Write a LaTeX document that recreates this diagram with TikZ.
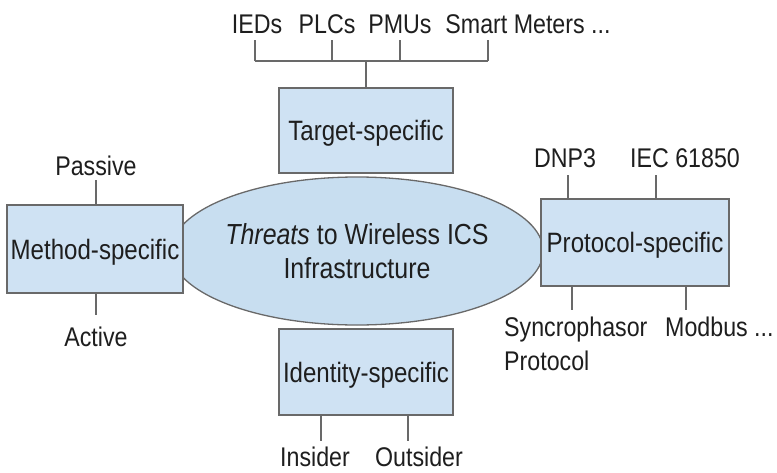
\documentclass[tikz,border=0pt]{standalone}
\usepackage{fontspec}
\setmainfont{Liberation Sans}
\newfontfamily\narrowsans{Liberation Sans}[FakeStretch=0.86]
\usetikzlibrary{shapes.geometric}
\definecolor{boxfill}{RGB}{207,226,243}
\definecolor{ellfill}{RGB}{200,222,240}
\definecolor{edge}{RGB}{105,105,105}
\definecolor{ink}{RGB}{30,30,30}
\tikzset{
  cat/.style={draw=edge, line width=1.3pt, fill=boxfill, minimum width=#1, text=ink,
              font=\narrowsans\fontsize{28}{30}\selectfont, inner sep=0pt, text depth=0pt},
  lbl/.style={text=ink, font=\narrowsans\fontsize{27}{34}\selectfont, inner sep=0pt, anchor=base},
  tick/.style={draw=edge, line width=1.2pt}
}
\begin{document}
\begin{tikzpicture}[x=1pt,y=-1pt]
\useasboundingbox (0,0) rectangle (777,472);
\fill[white] (0,0) rectangle (777,472);

% central ellipse
\node[ellipse, draw=edge, line width=1.3pt, fill=ellfill, minimum width=354pt, minimum height=148pt,
      text=ink, font=\narrowsans\fontsize{29}{34}\selectfont, align=center, inner sep=0pt] (core) at (357,251)
  {\textit{Threats} to Wireless ICS\\Infrastructure};

% category boxes
\node[cat=174pt, minimum height=85pt] (target) at (366,130.5) {Target-specific};
\node[cat=176pt, minimum height=88pt] (method) at (95,249) {Method-specific};
\node[cat=188pt, minimum height=87pt] (proto) at (635,242.5) {Protocol-specific};
\node[cat=174pt, minimum height=86pt] (ident) at (366,372) {Identity-specific};

% target-specific leaves
\node[lbl] (ieds) at (257,33) {IEDs};
\node[lbl] (plcs) at (327,33) {PLCs};
\node[lbl] (pmus) at (400,33) {PMUs};
\node[lbl] (smart) at (528,33) {Smart Meters ...};
\coordinate (tj) at (target.north |- 0,61);
\coordinate (tl) at (255,61);
\coordinate (tr) at (488,61);
\draw[tick] (target.north) -- (tj);
\draw[tick] (tl) -- (tr);
\draw[tick] (tl) -- (tl |- 0,40);
\draw[tick] (332,61) -- (332,40);
\draw[tick] (400,61) -- (400,40);
\draw[tick] (tr) -- (tr |- 0,40);

% method-specific leaves
\node[lbl] (passive) at (96,175) {Passive};
\node[lbl] (active) at (96,346) {Active};
\draw[tick] (method.north -| 96,0) -- (96,180);
\draw[tick] (method.south -| 96,0) -- (96,315);

% protocol-specific leaves
\node[lbl] (dnp) at (565,167) {DNP3};
\node[lbl] (iec) at (685,167) {IEC 61850};
\node[lbl, anchor=base west] (sync) at (504,336) {Syncrophasor};
\node[lbl, anchor=base west] (syncb) at (504,370) {Protocol};
\node[lbl, anchor=base west] (modbus) at (665,336) {Modbus ...};
\draw[tick] (proto.north -| 568,0) -- (568,175);
\draw[tick] (proto.north -| 656,0) -- (656,175);
\draw[tick] (proto.south -| 572,0) -- (572,310);
\draw[tick] (proto.south -| 686,0) -- (686,310);

% identity-specific leaves
\node[lbl] (insider) at (315,466) {Insider};
\node[lbl] (outsider) at (419,466) {Outsider};
\draw[tick] (ident.south -| 321,0) -- (321,441);
\draw[tick] (ident.south -| 408,0) -- (408,441);
\end{tikzpicture}
\end{document}
